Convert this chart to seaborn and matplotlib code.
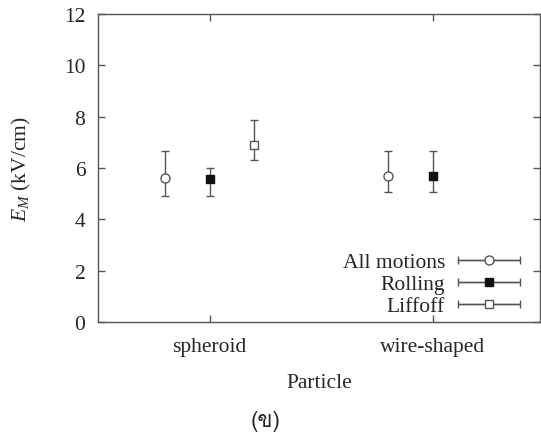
import numpy as np
import pandas as pd
import seaborn as sns
import matplotlib
matplotlib.use("Agg")
import matplotlib.pyplot as plt
from matplotlib import font_manager
from matplotlib.ft2font import FT2Font
from matplotlib.container import ErrorbarContainer
from matplotlib.legend_handler import HandlerErrorbar

# ---------------- data ----------------
categories = ["spheroid", "wire-shaped"]
series = ["All motions", "Rolling", "Liffoff"]
all_motions = [5.62, 5.70]
all_motions_lo = [4.90, 5.08]
all_motions_hi = [6.68, 6.68]
rolling = [5.57, 5.68]
rolling_lo = [4.90, 5.08]
rolling_hi = [6.02, 6.68]
liftoff = [6.90, np.nan]
liftoff_lo = [6.31, np.nan]
liftoff_hi = [7.87, np.nan]
y_ticks = [0, 2, 4, 6, 8, 10, 12]

rows = []
for s, c, lo, hi in [("All motions", all_motions, all_motions_lo, all_motions_hi),
                     ("Rolling", rolling, rolling_lo, rolling_hi),
                     ("Liffoff", liftoff, liftoff_lo, liftoff_hi)]:
    for cat, v, l, h in zip(categories, c, lo, hi):
        rows.append(dict(series=s, particle=cat, value=v, lo=l, hi=h))
df = pd.DataFrame(rows).dropna()

# ---------------- style ----------------
sns.set_theme(style="ticks")
serif = "Liberation Serif"
plt.rcParams["font.family"] = [serif, "DejaVu Serif"]
plt.rcParams["mathtext.fontset"] = "custom"
plt.rcParams["mathtext.rm"] = serif
plt.rcParams["mathtext.it"] = serif + ":italic"
fs = 15.5
gray = "#555555"

fig = plt.figure(figsize=(5.41, 4.39), dpi=100)
ax = fig.add_axes([0.181, 0.264, 0.817, 0.702])

styles = {
    "All motions": dict(marker="o", mfc="white", mec=gray, ms=6.5),
    "Rolling": dict(marker="s", mfc="#111111", mec="#111111", ms=5.8),
    "Liffoff": dict(marker="s", mfc="white", mec=gray, ms=6.3),
}
offsets = {"All motions": -0.2, "Rolling": 0.0, "Liffoff": 0.2}

handles = []
for s in series:
    d = df[df.series == s]
    xpos = np.array([categories.index(c) for c in d.particle]) + offsets[s]
    yerr = np.vstack([d.value - d.lo, d.hi - d.value])
    ax.errorbar(xpos, d.value, yerr=yerr, fmt="none", ecolor=gray,
                elinewidth=1.0, capsize=3, capthick=1.0, zorder=2)
    sns.scatterplot(x=xpos, y=d.value.values, ax=ax, marker=styles[s]["marker"],
                    s=styles[s]["ms"] ** 2, facecolor=styles[s]["mfc"],
                    edgecolor=styles[s]["mec"], linewidth=1.0, zorder=3, legend=False)
    h = ax.errorbar([np.nan], [np.nan], xerr=[[0.1], [0.1]], color=gray,
                    ecolor=gray, lw=1.0, elinewidth=1.0, capsize=3, capthick=1.0,
                    marker=styles[s]["marker"], mfc=styles[s]["mfc"],
                    mec=styles[s]["mec"], ms=styles[s]["ms"], mew=1.0)
    handles.append(h)

ax.set_xlim(-0.5, 1.48)
ax.set_ylim(0, 12)
ax.set_yticks(y_ticks)
ax.set_yticklabels([str(t) for t in y_ticks])
ax.set_xticks(range(len(categories)))
ax.set_xticklabels(categories)
ax.tick_params(direction="in", top=True, right=True, labelsize=fs,
               length=5, width=1.0, color=gray)
ax.tick_params(axis="x", pad=11)
ax.tick_params(axis="y", pad=9)
for sp in ax.spines.values():
    sp.set_color(gray)
    sp.set_linewidth(1.0)
ax.set_xlabel("Particle", fontsize=fs, labelpad=12)
ax.set_ylabel(r"$E_M$ (kV/cm)", fontsize=fs, labelpad=22)

hl = 2.9
leg = ax.legend(handles, series, loc="lower right", frameon=False,
                markerfirst=False, fontsize=fs, handlelength=hl,
                handletextpad=0.6, labelspacing=0.09, borderaxespad=0.3,
                bbox_to_anchor=(0.99, -0.03),
                handler_map={ErrorbarContainer: HandlerErrorbar(xerr_size=hl / 2)})
for t in leg.get_texts():
    t.set_ha("right")
leg._legend_box.align = "right"

# find a font with Thai glyph for caption
thai_font = None
for f in font_manager.fontManager.ttflist:
    try:
        if 0x0E02 in FT2Font(f.fname).get_charmap():
            thai_font = f.name
            break
    except Exception:
        pass
fam = [thai_font, "DejaVu Sans"] if thai_font else ["DejaVu Sans"]
fig.text(0.49, 0.04, "(ข)", ha="center", va="center", fontsize=16, family=fam)

fig.savefig("out.png", dpi=100)
